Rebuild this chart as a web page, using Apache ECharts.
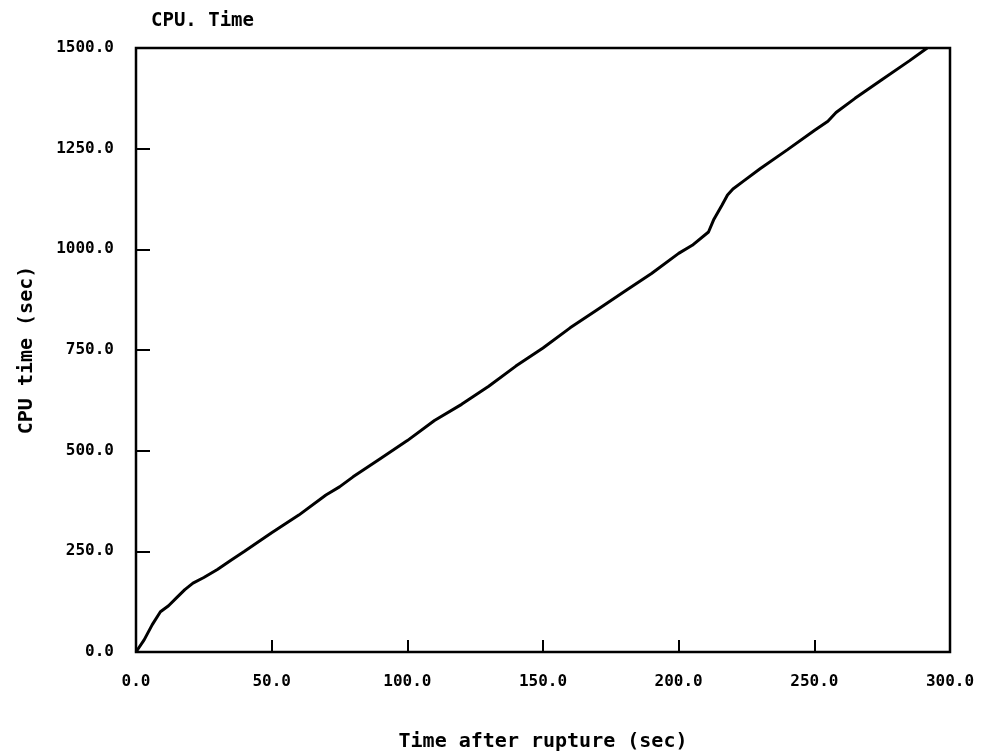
<!DOCTYPE html>
<html>
<head>
<meta charset="utf-8">
<script src="https://cdn.jsdelivr.net/npm/echarts@6/dist/echarts.min.js"></script>
<style>
  html, body { margin: 0; padding: 0; background: #fff; }
  #chart { width: 984px; height: 753px; }
</style>
</head>
<body>
<div id="chart"></div>
<script>
// CPU time consumed versus simulated time after rupture
const timeSec = [0, 3, 6, 9, 12, 15, 18, 21, 25, 30, 35, 40, 50, 60, 70, 75, 80, 90, 100, 110,
  120, 130, 140, 150, 160, 170, 180, 190, 200, 205, 211, 213, 216, 218, 220, 224, 230, 240,
  250, 255, 258, 265, 275, 285, 291.6];
const cpuSec = [0, 30, 68, 100, 115, 135, 155, 171, 185, 205, 228, 250, 296, 340, 390, 410, 435,
  480, 525, 575, 615, 660, 710, 755, 805, 850, 895, 940, 990, 1010, 1043, 1075, 1110, 1135,
  1150, 1170, 1200, 1247, 1295, 1318, 1340, 1375, 1422, 1468, 1500];

const xTicks = [0, 50, 100, 150, 200, 250, 300];
const yTicks = [0, 250, 500, 750, 1000, 1250, 1500];

const FONT = 'DejaVu Sans Mono';
const chart = echarts.init(document.getElementById('chart'), null, { renderer: 'canvas' });

chart.setOption({
  animation: false,
  backgroundColor: '#ffffff',
  title: {
    text: 'CPU. Time',
    left: 146,
    top: 7,
    textStyle: { fontFamily: FONT, fontWeight: 'bold', fontSize: 19, color: '#000' }
  },
  grid: {
    left: 136, right: 34, top: 48, bottom: 101,
    containLabel: false,
    outerBoundsMode: 'none',
    show: true, borderColor: '#000', borderWidth: 2.5, backgroundColor: 'transparent'
  },
  xAxis: {
    type: 'value',
    min: xTicks[0], max: xTicks[xTicks.length - 1], interval: 50,
    name: 'Time after rupture (sec)',
    nameLocation: 'middle',
    nameGap: 80,
    nameTextStyle: { fontFamily: FONT, fontWeight: 'bold', fontSize: 20, color: '#000' },
    axisLine: { show: false },
    axisTick: { show: true, inside: true, length: 12, lineStyle: { color: '#000', width: 2 } },
    splitLine: { show: false },
    axisLabel: {
      margin: 22, color: '#000', fontFamily: FONT, fontWeight: 'bold', fontSize: 16,
      formatter: v => v.toFixed(1)
    }
  },
  yAxis: {
    type: 'value',
    min: yTicks[0], max: yTicks[yTicks.length - 1], interval: 250,
    name: 'CPU time (sec)',
    nameLocation: 'middle',
    nameGap: 99,
    nameRotate: 90,
    nameTextStyle: { fontFamily: FONT, fontWeight: 'bold', fontSize: 20, color: '#000' },
    axisLine: { show: false },
    axisTick: { show: true, inside: true, length: 14, lineStyle: { color: '#000', width: 2 } },
    splitLine: { show: false },
    axisLabel: {
      margin: 22, color: '#000', fontFamily: FONT, fontWeight: 'bold', fontSize: 16,
      padding: [0, 0, 8, 0],
      formatter: v => v.toFixed(1)
    }
  },
  series: [{
    type: 'line',
    data: timeSec.map((t, i) => [t, cpuSec[i]]),
    showSymbol: false,
    smooth: false,
    lineStyle: { color: '#000', width: 3 }
  }]
});
</script>
</body>
</html>
